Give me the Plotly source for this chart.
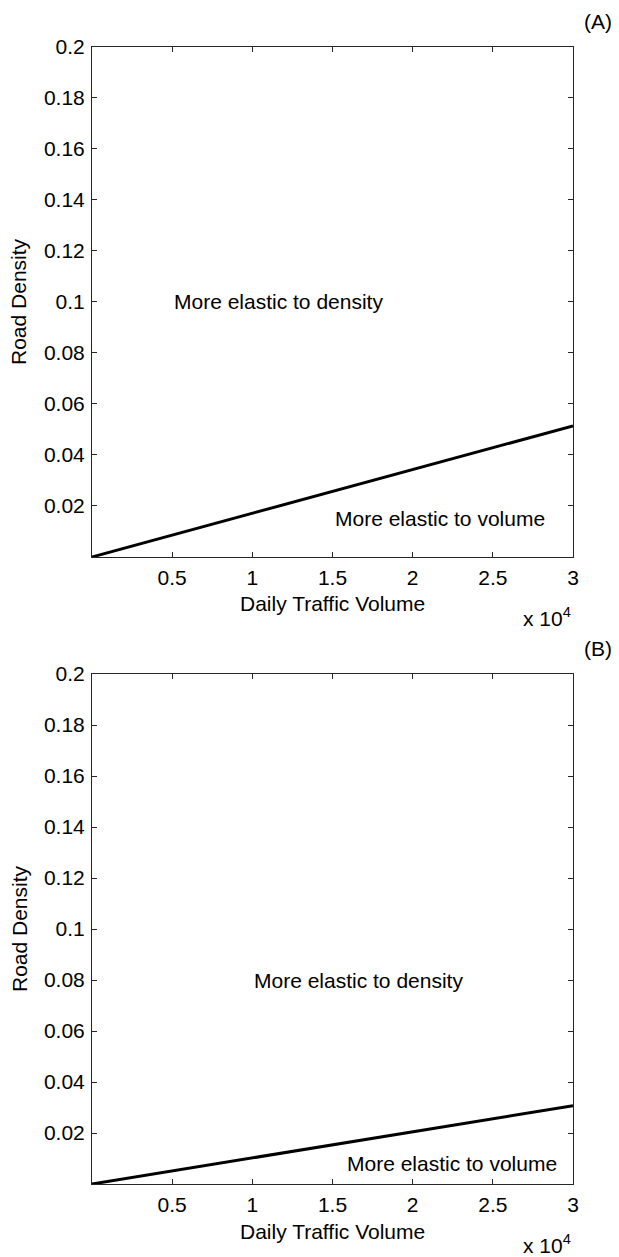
import plotly.graph_objects as go

# ---- data ----
volume = [0, 30000]                 # Daily Traffic Volume
density_A = [0, 0.0514]             # boundary line, panel A
density_B = [0, 0.0307]             # boundary line, panel B

x_tickvals = [5000, 10000, 15000, 20000, 25000, 30000]
x_ticktext = ["0.5", "1", "1.5", "2", "2.5", "3"]
y_tickvals = [0.02, 0.04, 0.06, 0.08, 0.1, 0.12, 0.14, 0.16, 0.18, 0.2]
y_ticktext = ["0.02", "0.04", "0.06", "0.08", "0.1", "0.12", "0.14", "0.16", "0.18", "0.2"]

labels_A = [("More elastic to density", 5000, 0.1), ("More elastic to volume", 15000, 0.015)]
labels_B = [("More elastic to density", 10000, 0.08), ("More elastic to volume", 15800, 0.008)]

FONT = "Liberation Sans, Arial, sans-serif"
FS = 21
AX = "#262626"

fig = go.Figure()
fig.add_trace(go.Scatter(x=volume, y=density_A, mode="lines",
                         line=dict(color="black", width=3), xaxis="x", yaxis="y",
                         showlegend=False, hoverinfo="skip"))
fig.add_trace(go.Scatter(x=volume, y=density_B, mode="lines",
                         line=dict(color="black", width=3), xaxis="x2", yaxis="y2",
                         showlegend=False, hoverinfo="skip"))

xcommon = dict(range=[0, 30000], tickvals=x_tickvals, ticktext=x_ticktext,
               ticks="inside", ticklen=5, tickcolor=AX, tickwidth=1,
               showline=True, linecolor=AX, linewidth=1, mirror="ticks",
               showgrid=False, zeroline=False, tickfont=dict(family=FONT, size=FS, color="black"),
               ticklabelstandoff=2, fixedrange=True)
ycommon = dict(range=[0, 0.2], tickvals=y_tickvals, ticktext=y_ticktext,
               ticks="inside", ticklen=5, tickcolor=AX, tickwidth=1,
               showline=True, linecolor=AX, linewidth=1, mirror="ticks",
               showgrid=False, zeroline=False, tickfont=dict(family=FONT, size=FS, color="black"),
               ticklabelstandoff=2, fixedrange=True)

fig.update_layout(
    width=611, height=1249,
    margin=dict(l=84, r=46, t=39, b=73),
    paper_bgcolor="white", plot_bgcolor="white",
    font=dict(family=FONT, size=FS, color="black"),
    xaxis=dict(domain=[0, 1], anchor="y", **xcommon),
    yaxis=dict(domain=[0.5515, 1.0], anchor="x", **ycommon),
    xaxis2=dict(domain=[0, 1], anchor="y2", **xcommon),
    yaxis2=dict(domain=[0.0, 0.4485], anchor="x2", **ycommon),
)

ann = []
for (txt, x, y) in labels_A:
    ann.append(dict(text=txt, x=x, y=y, xref="x", yref="y", xanchor="left", yanchor="middle",
                    showarrow=False, font=dict(family=FONT, size=FS)))
for (txt, x, y) in labels_B:
    ann.append(dict(text=txt, x=x, y=y, xref="x2", yref="y2", xanchor="left", yanchor="middle",
                    showarrow=False, font=dict(family=FONT, size=FS)))

for xr, yr, tag in [("x", "y", "(A)"), ("x2", "y2", "(B)")]:
    ann.append(dict(text="Daily Traffic Volume", x=0.5, y=0, xref=xr + " domain", yref=yr + " domain",
                    xanchor="center", yanchor="middle", yshift=-47, showarrow=False,
                    font=dict(family=FONT, size=FS)))
    ann.append(dict(text="x 10<sup>4</sup>", x=1, y=0, xref=xr + " domain", yref=yr + " domain",
                    xanchor="right", yanchor="middle", yshift=-60, showarrow=False,
                    font=dict(family=FONT, size=FS)))
    ann.append(dict(text="Road Density", x=0, y=0.5, xref=xr + " domain", yref=yr + " domain",
                    xanchor="center", yanchor="middle", xshift=-73, textangle=-90, showarrow=False,
                    font=dict(family=FONT, size=FS)))
    ann.append(dict(text=tag, x=1, y=1, xref=xr + " domain", yref=yr + " domain",
                    xanchor="left", yanchor="middle", xshift=9, yshift=26, showarrow=False,
                    font=dict(family=FONT, size=FS)))

fig.update_layout(annotations=ann)
fig.write_html("out.html")
